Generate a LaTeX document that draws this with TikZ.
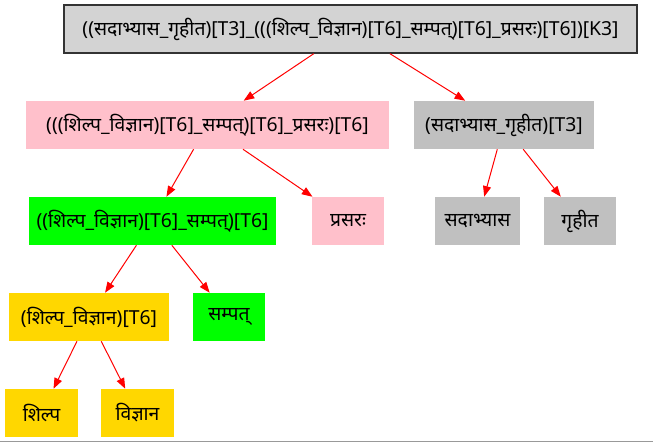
\documentclass[tikz,border=0pt]{standalone}
\usepackage{fontspec}
\newfontfamily\devfont[Script=Devanagari]{Noto Sans}
\usetikzlibrary{arrows.meta}
\definecolor{root gray}{HTML}{D3D3D3}
\definecolor{node gray}{HTML}{C0C0C0}
\definecolor{node pink}{HTML}{FFC0CB}
\definecolor{node green}{HTML}{00FF00}
\definecolor{node gold}{HTML}{FFD700}

\begin{document}
\begin{tikzpicture}[x=0.75pt,y=-0.75pt,
  box/.style={rectangle,inner sep=0,minimum height=36pt,minimum width=#1,
    font=\devfont\fontsize{14.5}{17}\selectfont},
  root box/.style={box=#1,fill=root gray,draw=black!80,line width=1pt},
  gray box/.style={box=#1,fill=node gray},
  pink box/.style={box=#1,fill=node pink},
  green box/.style={box=#1,fill=node green},
  gold box/.style={box=#1,fill=node gold},
  edge/.style={draw=red,line width=0.75pt,-{Triangle[length=8pt,width=6pt]}},
]
  \useasboundingbox (0,0) rectangle (653,443);
  \node[root box=429.75pt] (k3) at (350.5,29)
    {((सदाभ्यास\_गृहीत)[T3]\_(((शिल्प\_विज्ञान)[T6]\_सम्पत्)[T6]\_प्रसरः)[T6])[K3]};
  \node[pink box=272.25pt] (t6a) at (207.5,125)
    {(((शिल्प\_विज्ञान)[T6]\_सम्पत्)[T6]\_प्रसरः)[T6]};
  \node[gray box=135pt] (t3) at (504,125) {(सदाभ्यास\_गृहीत)[T3]};
  \node[green box=185.25pt] (t6b) at (152.5,221) {((शिल्प\_विज्ञान)[T6]\_सम्पत्)[T6]};
  \node[pink box=54pt] (prasara) at (348,221) {प्रसरः};
  \node[gray box=63.75pt] (sadabhyasa) at (477.5,221) {सदाभ्यास};
  \node[gray box=54pt] (grhita) at (580,221) {गृहीत};
  \node[gold box=120pt] (t6c) at (89,317) {(शिल्प\_विज्ञान)[T6]};
  \node[green box=54pt] (sampat) at (229,317) {सम्पत्};
  \node[gold box=54.75pt] (shilpa) at (41.5,413) {शिल्प};
  \node[gold box=54.75pt] (vijnana) at (137.5,413) {विज्ञान};

  \draw[edge] (k3) -- (t6a);
  \draw[edge] (k3) -- (t3);
  \draw[edge] (t6a) -- (t6b);
  \draw[edge] (t6a) -- (prasara);
  \draw[edge] (t3) -- (sadabhyasa);
  \draw[edge] (t3) -- (grhita);
  \draw[edge] (t6b) -- (t6c);
  \draw[edge] (t6b) -- (sampat);
  \draw[edge] (t6c) -- (shilpa);
  \draw[edge] (t6c) -- (vijnana);

  % rule along the bottom edge
  \coordinate (rule west) at (0,441.5);
  \coordinate (rule east) at (653,441.5);
  \draw[black!40,line width=1.1pt] (rule west) -- (rule east);
\end{tikzpicture}
\end{document}
